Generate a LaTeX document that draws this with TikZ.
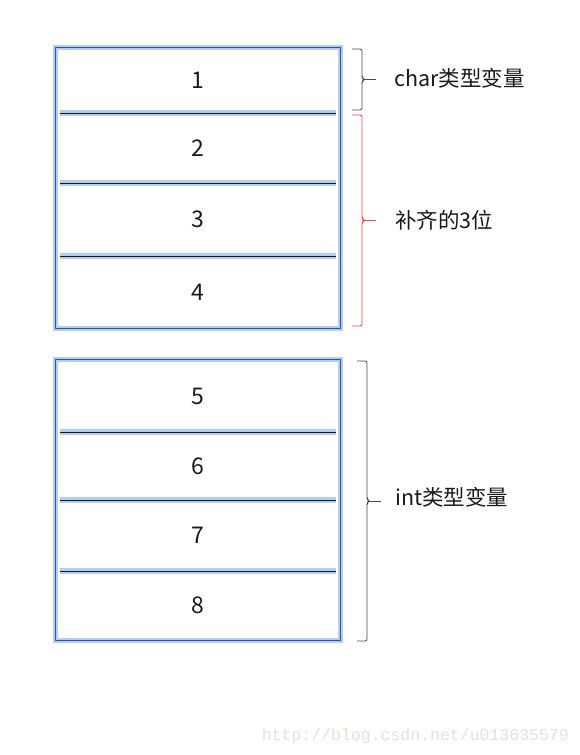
\documentclass[tikz,border=0pt]{standalone}
\usepackage{fontspec}
\setmainfont{Noto Sans CJK SC}
\newfontfamily\wmfont{Liberation Mono}
\usetikzlibrary{calc}
\definecolor{memEdge}{HTML}{2F5597}
\definecolor{memGlow}{HTML}{B4CEF2}
\definecolor{memInk}{HTML}{1A1A1A}
\definecolor{braceGrey}{HTML}{4A4A4A}
\definecolor{braceRed}{HTML}{FF4040}
\definecolor{wmGrey}{HTML}{E2E2DA}
\tikzset{
  cell/.style    = {minimum width=284pt, inner sep=0pt, text=memInk,
                    font=\fontsize{23}{25}\selectfont},
  frame/.style   = {draw=memEdge, line width=1pt,
                    preaction={draw=memGlow, line width=5pt}},
  divider/.style = {draw=memInk, line width=1.4pt,
                    preaction={draw=memGlow, line width=6pt}},
  grp/.style     = {line width=0.8pt, rounded corners=2pt},
  lbl/.style     = {anchor=west, inner sep=0pt, text=memInk,
                    font=\fontsize{21.5}{24}\selectfont},
}
% square brace: #1 left x, #2 top, #3 bottom, #4 colour, #5 name of its tip
\newcommand{\grpbrace}[5]{%
  \draw[grp, color=#4] (#1,#2) -- ({#1+10},#2) -- ({#1+10},{(#2+#3)/2-2})
    -- ({#1+12},{(#2+#3)/2}) -- ({#1+10},{(#2+#3)/2+2}) -- ({#1+10},#3) -- (#1,#3);
  \draw[color=#4, line width=0.8pt] ({#1+12},{(#2+#3)/2}) -- ({#1+24},{(#2+#3)/2})
    coordinate (#5);}

\begin{document}
\begin{tikzpicture}[x=1pt, y=-1pt]
\useasboundingbox (0,0) rectangle (579,755);

% upper block: the char and its three padding bytes
\node[cell, minimum height=65] (c1) at (198,80.5)  {1};
\node[cell, minimum height=70] (c2) at (198,148)   {2};
\node[cell, minimum height=73] (c3) at (198,219.5) {3};
\node[cell, minimum height=72] (c4) at (198,292)   {4};

% lower block: the int
\node[cell, minimum height=72] (c5) at (198,396)   {5};
\node[cell, minimum height=68] (c6) at (198,466)   {6};
\node[cell, minimum height=71] (c7) at (198,535.5) {7};
\node[cell, minimum height=69] (c8) at (198,605.5) {8};

\draw[frame] (c1.north west) rectangle (c4.south east);
\draw[frame] (c5.north west) rectangle (c8.south east);
\foreach \c in {c1,c2,c3,c5,c6,c7}
  \draw[divider] ($(\c.south west)+(4,0)$) -- ($(\c.south east)+(-4,0)$);

% braces and what they stand for
\grpbrace{352}{49}{110}{braceGrey}{tipChar}
\grpbrace{352}{115}{326}{braceRed}{tipPad}
\grpbrace{357}{361}{641}{braceGrey}{tipInt}

\node[lbl] (lblChar) at ($(tipChar)+(18,-1)$) {char类型变量};
\node[lbl] (lblPad)  at ($(tipPad)+(19,0)$)   {补齐的3位};
\node[lbl] (lblInt)  at ($(tipInt)+(14,-4)$)  {int类型变量};

\node[anchor=east, inner sep=0pt, text=wmGrey,
      font=\wmfont\fontsize{16.5}{18}\selectfont] (wm) at (569,736)
  {http://blog.csdn.net/u013635579};

\end{tikzpicture}
\end{document}
